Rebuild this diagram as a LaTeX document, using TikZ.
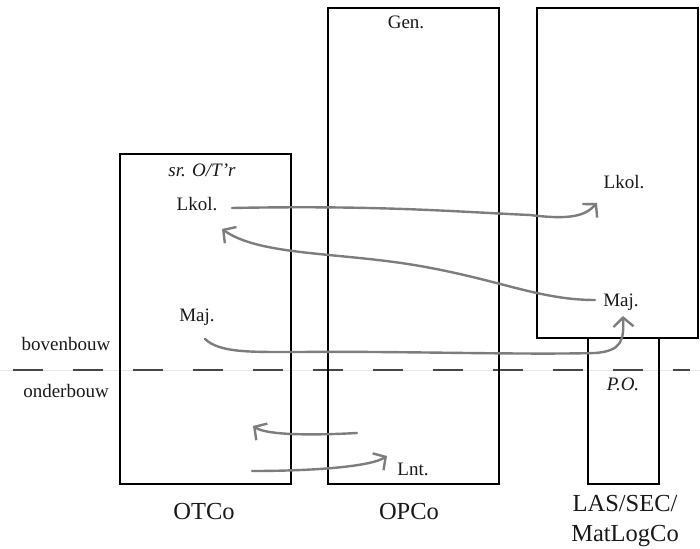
\documentclass[tikz,border=0pt]{standalone}
\usepackage{fontspec}
\setmainfont{Liberation Serif}
\usetikzlibrary{arrows.meta}
\definecolor{curvegray}{RGB}{125,125,125}
\definecolor{dashgray}{RGB}{70,70,70}
\definecolor{txt}{RGB}{25,25,25}
\tikzset{
  boxline/.style={draw=black, line width=2pt},
  lbl/.style={anchor=base, inner sep=0pt, text=txt, font=\fontsize{19}{23}\selectfont},
  biglbl/.style={anchor=base, inner sep=0pt, text=txt, align=center, font=\fontsize{24.5}{30}\selectfont},
  conn/.style={draw=curvegray, line width=2.4pt, line cap=round,
    -{Straight Barb[length=9pt,width=20pt]}},
  dashline/.style={draw=dashgray, line width=2.4pt, dash pattern=on 30pt off 30pt},
}
\begin{document}
\begin{tikzpicture}[x=1pt,y=-1pt]
\useasboundingbox (0,0) rectangle (700,548);
% faint guide line
\draw[gray!20, line width=0.7pt] (0,370) -- (700,370);
% dashed division line
\draw[dashline] (13,370) -- (690,370);
% boxes
\draw[boxline] (120,154) rectangle (291,484);
\draw[boxline] (328,8) rectangle (499,484);
\draw[boxline] (537,8) rectangle (698,338);
\draw[boxline] (588,338) rectangle (659,484);
% labels
\node[lbl] (boven) at (66,350) {bovenbouw};
\node[lbl] (onder) at (66,397) {onderbouw};
\node[lbl] (srOT) at (202,176) {\itshape sr. O/T'r};
\node[lbl] (lkolL) at (197,210) {Lkol.};
\node[lbl] (majL) at (197,321) {Maj.};
\node[lbl] (gen) at (406,29) {Gen.};
\node[lbl] (lkolR) at (624,188) {Lkol.};
\node[lbl] (majR) at (621,306) {Maj.};
\node[lbl] (po) at (623,390) {\itshape P.O.};
\node[lbl] (lnt) at (413,475) {Lnt.};
\node[biglbl] (otco) at (204,519) {OTCo};
\node[biglbl] (opco) at (409,519) {OPCo};
\node[biglbl] (las) at (625,541) {LAS/SEC/\\MatLogCo};
% connector end points
\coordinate (a1) at (232,208);
\coordinate (b1) at (597,203);
\coordinate (a2) at (595,300);
\coordinate (b2) at (222,229);
\coordinate (a3) at (205,339);
\coordinate (b3) at (623,316);
\coordinate (a4) at (357,433);
\coordinate (b4) at (253,426);
\coordinate (a5) at (252,471);
\coordinate (b5) at (387,456);
% connectors
\draw[conn] (a1) .. controls (380,205) and (460,212) .. (530,215)
  .. controls (570,220) and (585,216) .. (b1);
\draw[conn] (a2) .. controls (540,300) and (500,280) .. (420,266)
  .. controls (340,252) and (260,256) .. (b2);
\draw[conn] (a3) .. controls (220,353) and (250,352) .. (300,352)
  .. controls (400,351) and (520,355) .. (595,353)
  .. controls (622,351) and (624,340) .. (b3);
\draw[conn] (a4) .. controls (320,435) and (268,436) .. (b4);
\draw[conn] (a5) .. controls (310,471) and (370,467) .. (b5);
\end{tikzpicture}
\end{document}
